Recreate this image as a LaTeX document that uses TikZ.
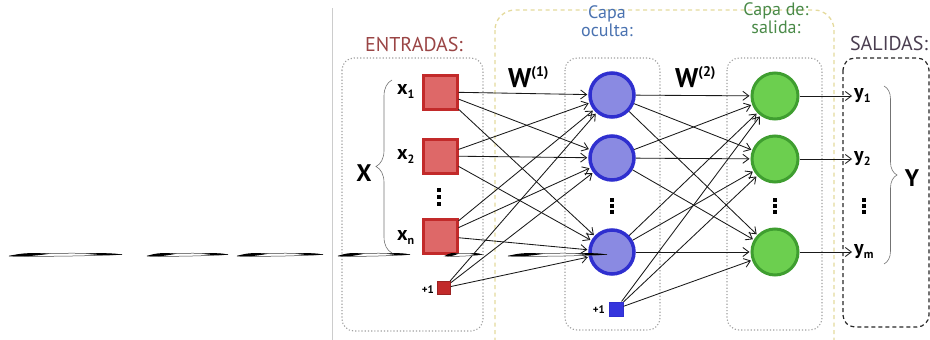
\documentclass[tikz,border=0pt]{standalone}
\usepackage{fontspec}
\setmainfont{PT Sans}
\usetikzlibrary{arrows.meta,decorations.pathreplacing,calc}
\definecolor{entc}{HTML}{9A4545}
\definecolor{ocuc}{HTML}{4A72B0}
\definecolor{salc}{HTML}{4A8A48}
\definecolor{salidc}{HTML}{4A3E50}
\definecolor{redfill}{HTML}{DE6868}
\definecolor{redline}{HTML}{C22A2A}
\definecolor{bluefill}{HTML}{8A8AE2}
\definecolor{blueline}{HTML}{2F2FCF}
\definecolor{bluesq}{HTML}{3535DD}
\definecolor{grnfill}{HTML}{6CCF4F}
\definecolor{grnline}{HTML}{3F9E30}
\definecolor{boxgray}{HTML}{A0A0A0}
\definecolor{yel}{HTML}{E4DA9C}
\begin{document}
\begin{tikzpicture}[x=1pt,y=-1pt,
  inbox/.style={draw=redline,fill=redfill,line width=3pt,minimum size=34pt,inner sep=0pt},
  bias1/.style={draw=redline!80!black,fill=redline,line width=1pt,minimum size=13pt,inner sep=0pt},
  hidn/.style={circle,draw=blueline,fill=bluefill,line width=3.5pt,minimum size=44pt,inner sep=0pt},
  bias2/.style={draw=blueline,fill=bluesq,line width=1pt,minimum size=14pt,inner sep=0pt},
  outn/.style={circle,draw=grnline,fill=grnfill,line width=3pt,minimum size=46pt,inner sep=0pt},
  conn/.style={draw=black!90,line width=0.85pt,-{Straight Barb[length=6pt,width=9pt,line width=0.85pt]},shorten >=1pt},
  dotbox/.style={draw=boxgray,line width=1.1pt,dash pattern=on 1.2pt off 2pt,rounded corners=12pt},
  lbl/.style={font=\fontsize{20}{20}\selectfont\bfseries,inner sep=0pt},
  title/.style={font=\fontsize{20}{20}\selectfont,inner sep=0pt,anchor=base},
  ttwo/.style={font=\fontsize{18}{11.5}\selectfont,inner sep=0pt,align=center,anchor=base},
  plus/.style={font=\fontsize{11}{11}\selectfont\bfseries,inner sep=0pt},
  big/.style={font=\fontsize{24}{24}\selectfont\bfseries,inner sep=0pt},
  dotm/.style={fill=black,minimum size=4.5pt,inner sep=0pt}
]
\useasboundingbox (0,0) rectangle (930,340);
% left border line
\draw[black!20,line width=0.8pt] (332,8) -- (332,340);
% yellow outer box
\begin{scope}
\clip (0,0) rectangle (930,340);
\draw[yel,line width=1.3pt,dash pattern=on 4pt off 3.5pt,rounded corners=20pt] (495,10) rectangle (834,370);
\end{scope}
% boxes
\draw[dotbox] (342,58) rectangle (483,331);
\draw[dotbox] (565,58) rectangle (660,330);
\draw[dotbox] (727,58) rectangle (822,330);
\draw[black!85,line width=1.2pt,dash pattern=on 4pt off 3pt,rounded corners=12pt] (843,58) rectangle (929,327);
% titles
\node[title,text=entc] (tent) at (414,51) {ENTRADAS:};
\node[ttwo,text=ocuc] (tocu) at (607,36) {Capa\\oculta:};
\node[ttwo,text=salc] (tsal) at (776,33) {Capa de:\\salida:};
\node[title,text=salidc] (tsalid) at (889,50) {SALIDAS:};
% input nodes
\node[inbox] (x1) at (440,92) {};
\node[inbox] (x2) at (440,156) {};
\node[inbox] (xn) at (440,236) {};
\node[bias1] (b1) at (444,288) {};
\node[plus,anchor=east] (pb1) at (434,290) {+1};
\node[lbl,anchor=mid west] (lx1) at (397,92) {x\raisebox{-3.5pt}{\fontsize{12}{12}\selectfont 1}};
\node[lbl,anchor=mid west] (lx2) at (397,157) {x\raisebox{-3.5pt}{\fontsize{12}{12}\selectfont 2}};
\node[lbl,anchor=mid west] (lxn) at (397,238) {x\raisebox{-3.5pt}{\fontsize{12}{12}\selectfont n}};
\node[dotm] (d1a) at (439,190) {};
\node[dotm] (d1b) at (439,197) {};
\node[dotm] (d1c) at (439,204) {};
% brace X
\draw[black!55,line width=0.6pt,decorate,decoration={brace,amplitude=16pt,mirror}] (392,80) -- (392,253);
\node[big] (X) at (364,173) {X};
% hidden
\node[hidn] (h1) at (612,95) {};
\node[hidn] (h2) at (612,158) {};
\node[hidn] (hm) at (612,252) {};
\node[bias2] (b2) at (616,309) {};
\node[plus,anchor=east] (pb2) at (605,310) {+1};
\node[dotm] (d2a) at (612,200) {};
\node[dotm] (d2b) at (612,206) {};
\node[dotm] (d2c) at (612,212) {};
% output
\node[outn] (o1) at (775,96) {};
\node[outn] (o2) at (775,159) {};
\node[outn] (om) at (775,252) {};
\node[dotm] (d3a) at (775,200) {};
\node[dotm] (d3b) at (775,206) {};
\node[dotm] (d3c) at (775,212) {};
% outputs labels
\coordinate (t1) at (853,96);
\coordinate (t2) at (853,159);
\coordinate (tm) at (853,252);
\node[lbl,anchor=mid west] (ly1) at (854,96) {y\raisebox{-3.5pt}{\fontsize{12}{12}\selectfont 1}};
\node[lbl,anchor=mid west] (ly2) at (854,159) {y\raisebox{-3.5pt}{\fontsize{12}{12}\selectfont 2}};
\node[lbl,anchor=mid west] (lym) at (854,252) {y\raisebox{-3.5pt}{\fontsize{12}{12}\selectfont m}};
\node[dotm] (d4a) at (864,200) {};
\node[dotm] (d4b) at (864,206) {};
\node[dotm] (d4c) at (864,212) {};
\draw[black!55,line width=0.6pt,decorate,decoration={brace,amplitude=13pt}] (884,86) -- (884,264);
\node[big] (Y) at (912,178) {Y};
% weights labels
\node[inner sep=0pt,anchor=base west] (w1) at (508,87) {\fontsize{27}{27}\selectfont\bfseries W\raisebox{11pt}{\fontsize{14}{14}\selectfont (1)}};
\node[inner sep=0pt,anchor=base west] (w2) at (675,87) {\fontsize{27}{27}\selectfont\bfseries W\raisebox{11pt}{\fontsize{14}{14}\selectfont (2)}};
% connections
\foreach \s in {x1,x2,xn,b1}
  \foreach \t in {h1,h2,hm}
    \draw[conn] (\s) -- (\t);
\foreach \s in {h1,h2,hm,b2}
  \foreach \t in {o1,o2,om}
    \draw[conn] (\s) -- (\t);
\draw[conn] (o1) -- (t1);
\draw[conn] (o2) -- (t2);
\draw[conn] (om) -- (tm);
% lens-shaped stroke artifacts
\foreach \a/\b in {9/122,147/228,237/323,338/410,445/482,508/607}{
  \draw[black!75,line width=0.5pt,fill=white] (\a,256) .. controls ({\a+0.3*(\b-\a)},252.4) and ({\b-0.3*(\b-\a)},252.8) .. (\b,254.5) .. controls ({\b-0.3*(\b-\a)},256) and ({\a+0.3*(\b-\a)},256.8) .. cycle;
  \fill[black] (\a,256) .. controls ({\a+0.12*(\b-\a)},252.6) and ({\a+0.22*(\b-\a)},252.6) .. ({\a+0.36*(\b-\a)},253.8) .. controls ({\a+0.22*(\b-\a)},256) and ({\a+0.1*(\b-\a)},257) .. cycle;
  \fill[black] (\b,254.5) .. controls ({\b-0.1*(\b-\a)},252.9) and ({\b-0.2*(\b-\a)},252.9) .. ({\b-0.32*(\b-\a)},253.7) .. controls ({\b-0.2*(\b-\a)},255.4) and ({\b-0.1*(\b-\a)},255.4) .. cycle;
}
\end{tikzpicture}
\end{document}
